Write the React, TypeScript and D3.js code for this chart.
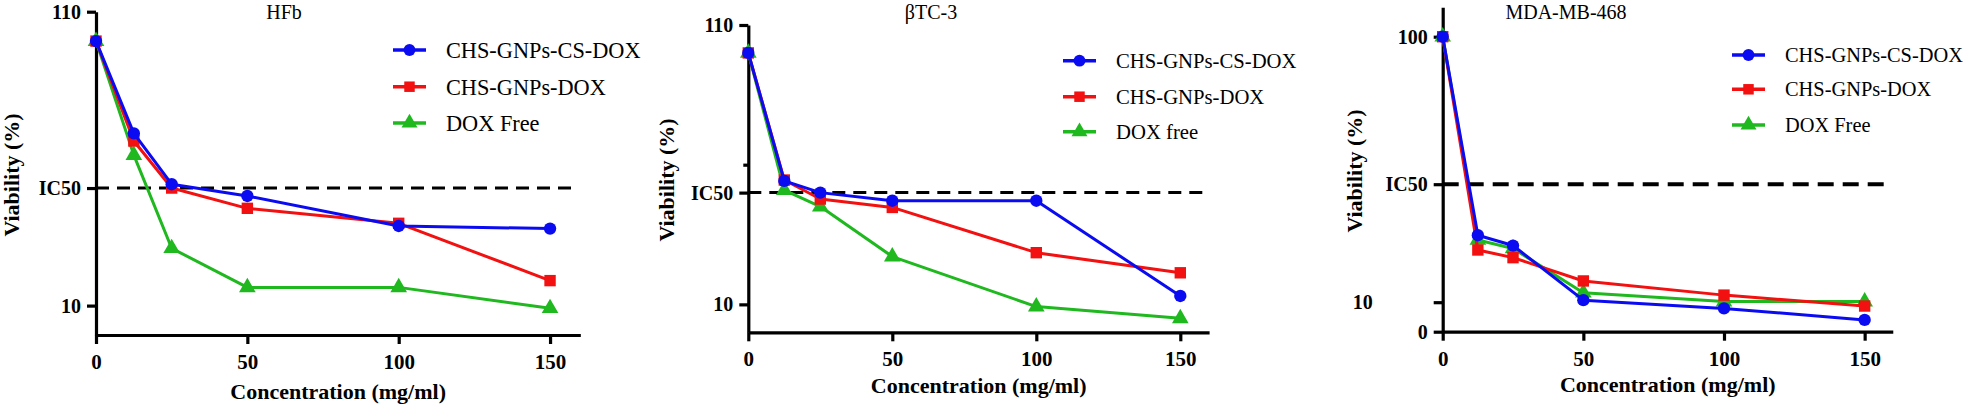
import { useRef, useEffect } from 'react';
import * as d3 from 'd3';

// concentrations (mg/ml) shared by all three cell lines
const concentrations = [0, 12.5, 25, 50, 100, 150];

const hfbCsDox = [100, 68.6, 51.3, 47.3, 37.1, 36.2];
const hfbDox = [100, 66, 50, 43.1, 38, 18.5];
const hfbFree = [100, 61.2, 29.5, 16.2, 16.2, 9.1];

const btcCsDox = [100, 54.2, 50, 47.1, 47.1, 13];
const btcDox = [100, 54.5, 47.7, 44.7, 28.5, 21.3];
const btcFree = [100, 50.9, 45, 27.1, 9.2, 5];

const mdaCsDox = [100, 32.7, 29.2, 10.7, 7.9, 4];
const mdaDox = [100, 27.7, 25.1, 17.2, 12.4, 8.7];
const mdaFree = [100, 31.1, 28.2, 13.2, 10.2, 10.2];

const panelTitles = ['HFb', 'βTC-3', 'MDA-MB-468'];
const seriesLabels = [
  ['CHS-GNPs-CS-DOX', 'CHS-GNPs-DOX', 'DOX Free'],
  ['CHS-GNPs-CS-DOX', 'CHS-GNPs-DOX', 'DOX free'],
  ['CHS-GNPs-CS-DOX', 'CHS-GNPs-DOX', 'DOX Free'],
];
const xTicks = [0, 50, 100, 150];
const yTicks = [[110, 50, 10], [110, 60, 50, 10], [100, 50, 10, 0]];
const yTickLabels = [['110', 'IC50', '10'], ['110', '', 'IC50', '10'], ['100', 'IC50', '10', '0']];
const ic50 = 50;

const colors = ['#0b0bf2', '#f21010', '#1fb81f'];
const shapes = [d3.symbolCircle, d3.symbolSquare, d3.symbolTriangle];

// pixel layout of each panel
const layout = [
  { x0: 96, pxPerUnit: 3.027, yBottom: 335, yTop: 11.7, fs: 22.3, legX: 393, legY: [50, 86.7, 123],
    titleX: 284, titleY: 19, yTitleX: 19, yTitleY: 175, xTitleY: 399, dash: '13,8', dashW: 3 },
  { x0: 748.3, pxPerUnit: 2.88, yBottom: 332.3, yTop: 25, fs: 20.7, legX: 1063, legY: [60.7, 96.7, 131.7],
    titleX: 931, titleY: 19, yTitleX: 674, yTitleY: 180, xTitleY: 393, dash: '13,8', dashW: 3 },
  { x0: 1442.7, pxPerUnit: 2.813, yBottom: 331.7, yTop: 7.2, fs: 20.4, legX: 1732, legY: [55, 89.3, 125],
    titleX: 1566, titleY: 19, yTitleX: 1362, yTitleY: 171, xTitleY: 392, dash: '16,9', dashW: 4 },
];

const panelData = [
  [hfbCsDox, hfbDox, hfbFree],
  [btcCsDox, btcDox, btcFree],
  [mdaCsDox, mdaDox, mdaFree],
];

const serif = '"Liberation Serif", "Times New Roman", serif';

export default function App() {
  const svgRef = useRef(null);

  useEffect(() => {
    const svg = d3.select(svgRef.current);
    svg.selectAll('*').remove();
    svg.append('rect').attr('width', 1963).attr('height', 406).attr('fill', '#fff');

    layout.forEach((L, p) => {
      const g = svg.append('g');
      const x = d3.scaleLinear().domain([0, 160]).range([L.x0, L.x0 + 160 * L.pxPerUnit]);
      const y = d3.scaleLinear().domain([0, 110]).range([L.yBottom, L.yTop]);

      // IC50 dashed line
      g.append('line')
        .attr('x1', x(0)).attr('x2', x(159.5))
        .attr('y1', y(ic50)).attr('y2', y(ic50))
        .attr('stroke', '#000').attr('stroke-width', L.dashW)
        .attr('stroke-dasharray', L.dash);

      // X axis
      g.append('g')
        .attr('transform', `translate(0,${L.yBottom})`)
        .call(d3.axisBottom(x).tickValues(xTicks).tickSize(9).tickSizeOuter(0).tickPadding(10))
        .call(a => a.select('.domain').attr('stroke', '#000').attr('stroke-width', 3.2))
        .call(a => a.selectAll('.tick line').attr('stroke', '#000').attr('stroke-width', 3.2))
        .call(a => a.selectAll('.tick text').attr('fill', '#000').attr('font-size', 21)
          .attr('font-weight', 'bold').attr('font-family', serif));

      // Y axis
      const labels = yTickLabels[p];
      const tv = yTicks[p];
      g.append('g')
        .attr('transform', `translate(${L.x0},0)`)
        .call(d3.axisLeft(y).tickValues(tv).tickSize(9).tickSizeOuter(0).tickPadding(6)
          .tickFormat((d, i) => labels[i]))
        .call(a => a.select('.domain').attr('stroke', '#000').attr('stroke-width', 3.2))
        .call(a => a.selectAll('.tick line').attr('stroke', '#000').attr('stroke-width', 3.2)
          .attr('x2', (d, i) => (labels[i] === '' ? -5 : -9)))
        .call(a => a.selectAll('.tick text').attr('fill', '#000').attr('font-size', 20)
          .attr('font-weight', 'bold').attr('font-family', serif)
          .attr('x', (d, i) => (p === 2 && d === 10 ? -70 : -15)));

      // series: green, red, blue (blue on top)
      [2, 1, 0].forEach(s => {
        const vals = panelData[p][s];
        const pts = concentrations.map((c, i) => [c, vals[i]]);
        const line = d3.line().x(d => x(d[0])).y(d => y(d[1]));
        g.append('path').datum(pts)
          .attr('d', line)
          .attr('fill', 'none').attr('stroke', colors[s]).attr('stroke-width', 3)
          .attr('stroke-linejoin', 'round');
        g.selectAll(null).data(pts).join('path')
          .attr('transform', d => `translate(${x(d[0])},${y(d[1])})`)
          .attr('d', d3.symbol().type(shapes[s]).size(s === 0 ? 120 : s === 1 ? 130 : 120))
          .attr('fill', colors[s]);
      });

      // legend
      seriesLabels[p].forEach((lab, s) => {
        const ly = L.legY[s];
        g.append('line')
          .attr('x1', L.legX).attr('x2', L.legX + 33)
          .attr('y1', ly).attr('y2', ly)
          .attr('stroke', colors[s]).attr('stroke-width', 3.5);
        g.append('path')
          .attr('transform', `translate(${L.legX + 16.5},${ly})`)
          .attr('d', d3.symbol().type(shapes[s]).size(110))
          .attr('fill', colors[s]);
        g.append('text')
          .attr('x', L.legX + 53).attr('y', ly)
          .attr('dy', '0.35em')
          .attr('font-family', serif).attr('font-size', L.fs)
          .attr('fill', '#000')
          .text(lab);
      });

      // titles
      g.append('text')
        .attr('x', L.titleX).attr('y', L.titleY)
        .attr('text-anchor', 'middle')
        .attr('font-family', serif).attr('font-size', 20).attr('fill', '#000')
        .text(panelTitles[p]);

      g.append('text')
        .attr('x', (x(0) + x(160)) / 2).attr('y', L.xTitleY)
        .attr('text-anchor', 'middle')
        .attr('font-family', serif).attr('font-size', 22).attr('font-weight', 'bold')
        .attr('fill', '#000')
        .text('Concentration (mg/ml)');

      g.append('text')
        .attr('transform', `translate(${L.yTitleX},${L.yTitleY}) rotate(-90)`)
        .attr('text-anchor', 'middle')
        .attr('font-family', serif).attr('font-size', 22).attr('font-weight', 'bold')
        .attr('fill', '#000')
        .text('Viability (%)');
    });
  }, []);

  return (
    <svg
      ref={svgRef}
      width={1963}
      height={406}
      style={{ position: 'absolute', left: 0, top: 0, display: 'block' }}
    />
  );
}
